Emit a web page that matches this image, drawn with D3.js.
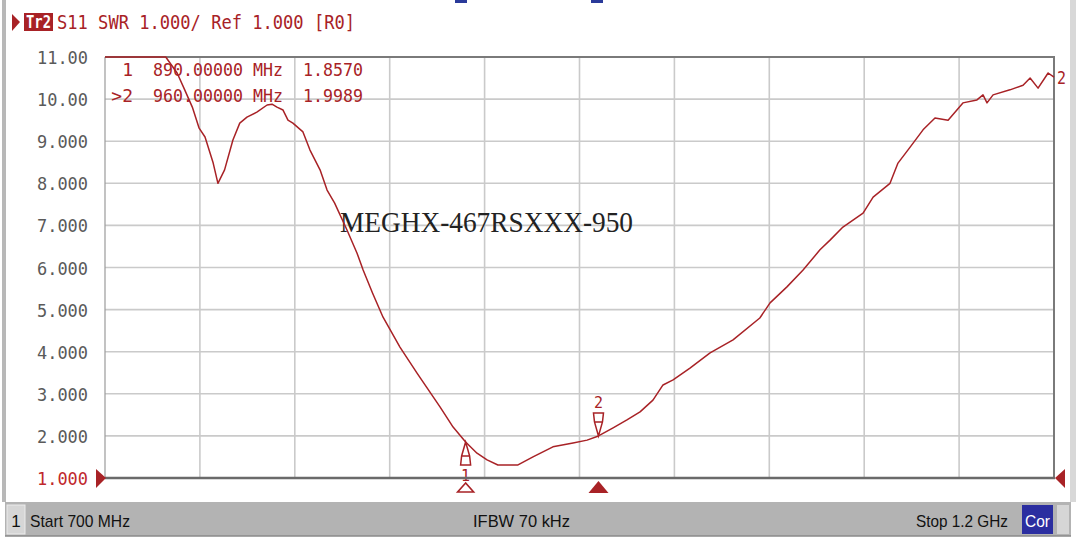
<!DOCTYPE html>
<html>
<head>
<meta charset="utf-8">
<script src="https://cdn.jsdelivr.net/npm/d3@7"></script>
<style>
  html, body { margin: 0; padding: 0; background: #ffffff; }
  svg { display: block; }
</style>
</head>
<body>
<svg id="chart" width="1076" height="540"></svg>
<script>
// ---------- data ----------
const freqMHz = [700, 715, 732, 738, 742, 746, 749.6, 752.7, 757, 759.5, 763, 767.4, 771, 774.8, 780, 785.4, 788, 790.6, 793.8,
  796.4, 799, 804.3, 808, 813.3, 817, 821, 827.5, 832.8, 836, 841, 846.5, 855.4, 864.4, 876.5, 883.4, 890, 896, 901.3, 907,
  917.6, 925.5, 936, 946.6, 954, 960, 967.7, 975, 981.9, 988.7, 994, 999.3, 1008.2, 1018.8, 1030.9, 1045, 1050.4, 1059.3,
  1067.8, 1076.7, 1082, 1088.8, 1099.4, 1104.7, 1113.6, 1117.8, 1124.2, 1131, 1137.3, 1144.2, 1152, 1159.4, 1162.6, 1164.7,
  1167.9, 1176.8, 1183.7, 1187.4, 1191.6, 1196.9, 1200];
const swr = [11.0, 11.0, 11.0, 10.62, 10.22, 9.81, 9.31, 9.10, 8.48, 8.0, 8.32, 9.03, 9.43, 9.57, 9.69, 9.86, 9.88, 9.81, 9.74,
  9.50, 9.43, 9.22, 8.79, 8.32, 7.84, 7.53, 6.89, 6.34, 5.94, 5.39, 4.82, 4.11, 3.49, 2.69, 2.21, 1.857, 1.59, 1.43, 1.31,
  1.31, 1.50, 1.74, 1.83, 1.90, 1.999, 2.19, 2.38, 2.57, 2.85, 3.21, 3.33, 3.61, 3.97, 4.28, 4.80, 5.16, 5.54,
  5.94, 6.42, 6.65, 6.96, 7.29, 7.67, 8.0, 8.48, 8.86, 9.27, 9.55, 9.50, 9.91, 9.98, 10.10, 9.91,
  10.10, 10.22, 10.33, 10.50, 10.26, 10.62, 10.52];
const yTickValues = [11, 10, 9, 8, 7, 6, 5, 4, 3, 2, 1];
const yTickLabels = ["11.00", "10.00", "9.000", "8.000", "7.000", "6.000", "5.000", "4.000", "3.000", "2.000", "1.000"];
const xGridMHz = [700, 750, 800, 850, 900, 950, 1000, 1050, 1100, 1150, 1200];
const markerIds = ["1", "2"];
const markerFreq = [890, 960];
const markerSwr = [1.857, 1.9989];
const markerFreqText = ["890.00000 MHz", "960.00000 MHz"];
const markerValText = ["1.8570", "1.9989"];
const headerText = "S11 SWR 1.000/ Ref 1.000 [R0]";
const annotation = "MEGHX-467RSXXX-950";

// ---------- layout ----------
const svg = d3.select("#chart");
const L = 105, R = 1054, T = 57, B = 478;
const x = d3.scaleLinear().domain([700, 1200]).range([L, R]);
const y = d3.scaleLinear().domain([1, 11]).range([B, T]);
const red = "#a82226";
const mono = "'DejaVu Sans Mono', 'Liberation Mono', monospace";
const sans = "'Liberation Sans', 'DejaVu Sans', sans-serif";

// window frame bits
svg.append("rect").attr("x", 2).attr("y", 0).attr("width", 4).attr("height", 502).attr("fill", "#b8b8b8");
svg.append("rect").attr("x", 1070).attr("y", 0).attr("width", 6).attr("height", 502).attr("fill", "#d8d8d8");
svg.append("rect").attr("x", 455).attr("y", 0).attr("width", 12).attr("height", 3).attr("fill", "#2a3a9a");
svg.append("rect").attr("x", 591).attr("y", 0).attr("width", 12).attr("height", 3).attr("fill", "#2a3a9a");

// header
svg.append("path").attr("d", "M12,14 L20,22 L12,31 Z").attr("fill", red);
svg.append("rect").attr("x", 24).attr("y", 13).attr("width", 29).attr("height", 18).attr("fill", red);
svg.append("text").attr("x", 26).attr("y", 28).attr("font-family", mono).attr("font-size", 17).attr("font-weight", "bold")
  .attr("fill", "#fff").attr("textLength", 25).attr("lengthAdjust", "spacingAndGlyphs").text("Tr2");
svg.append("text").attr("x", 57).attr("y", 29).attr("font-family", mono).attr("font-size", 20)
  .attr("fill", red).attr("textLength", 298).attr("lengthAdjust", "spacingAndGlyphs").text(headerText);

// grid
const g = svg.append("g");
g.selectAll("line.vg").data(xGridMHz.slice(1, -1)).join("line")
  .attr("x1", d => x(d)).attr("x2", d => x(d)).attr("y1", T).attr("y2", B)
  .attr("stroke", "#cacaca").attr("stroke-width", 1.6);
g.selectAll("line.hg").data(yTickValues.slice(1, -1)).join("line")
  .attr("x1", L).attr("x2", R).attr("y1", d => y(d)).attr("y2", d => y(d))
  .attr("stroke", "#cacaca").attr("stroke-width", 1.6);

// y labels
svg.selectAll("text.yl").data(yTickValues).join("text")
  .attr("x", 88).attr("y", d => y(d) + 7)
  .attr("text-anchor", "end").attr("font-family", mono).attr("font-size", 18)
  .attr("fill", (d, i) => d === 1 ? "#c0282c" : "#5a5a5a")
  .attr("textLength", 51).attr("lengthAdjust", "spacingAndGlyphs")
  .text((d, i) => yTickLabels[i]);

// frame
svg.append("line").attr("x1", L).attr("x2", L).attr("y1", T).attr("y2", B).attr("stroke", "#9a9a9a").attr("stroke-width", 1.2);
svg.append("line").attr("x1", L).attr("x2", R + 1).attr("y1", T).attr("y2", T).attr("stroke", "#7a7a7a").attr("stroke-width", 2);
svg.append("line").attr("x1", R).attr("x2", R).attr("y1", T).attr("y2", B).attr("stroke", "#7a7a7a").attr("stroke-width", 2);

// annotation
svg.append("text").attr("x", 340).attr("y", 232).attr("font-family", "'Liberation Serif', 'DejaVu Serif', serif")
  .attr("font-size", 29).attr("fill", "#222").attr("textLength", 293).attr("lengthAdjust", "spacingAndGlyphs").text(annotation);

// marker readout
const rows = svg.selectAll("g.row").data(markerIds).join("g").attr("font-family", mono).attr("font-size", 18).attr("fill", red);
rows.append("text").attr("x", 133).attr("y", (d, i) => 76 + i * 26).attr("text-anchor", "end")
  .text((d, i) => (i === 1 ? ">" : "") + d);
rows.append("text").attr("x", 153).attr("y", (d, i) => 76 + i * 26)
  .attr("textLength", 130).attr("lengthAdjust", "spacingAndGlyphs").text((d, i) => markerFreqText[i]);
rows.append("text").attr("x", 303).attr("y", (d, i) => 76 + i * 26)
  .attr("textLength", 60).attr("lengthAdjust", "spacingAndGlyphs").text((d, i) => markerValText[i]);

// trace
const pts = freqMHz.map((f, i) => [f, swr[i]]);
svg.append("path").datum(pts)
  .attr("d", d3.line().x(d => x(d[0])).y(d => y(d[1])))
  .attr("fill", "none").attr("stroke", red).attr("stroke-width", 1.5).attr("stroke-linejoin", "round");
svg.append("text").attr("x", 1057).attr("y", 84).attr("font-family", mono).attr("font-size", 18).attr("fill", red)
  .attr("textLength", 9).attr("lengthAdjust", "spacingAndGlyphs").text("2");

// markers on trace
const mk = svg.selectAll("g.mk").data(markerIds).join("g");
mk.append("path").attr("d", (d, i) => {
  const px = x(markerFreq[i]), py = y(markerSwr[i]);
  if (i === 0) return `M${px},${py} L${px - 4},${py + 14} L${px - 5},${py + 23} L${px + 5},${py + 23} L${px + 4},${py + 14} Z M${px - 4},${py + 14} L${px + 4},${py + 14}`;
  return `M${px},${py} L${px - 4},${py - 14} L${px - 5},${py - 23} L${px + 5},${py - 23} L${px + 4},${py - 14} Z M${px - 4},${py - 14} L${px + 4},${py - 14}`;
}).attr("fill", "#fff").attr("stroke", red).attr("stroke-width", 1.5);
mk.append("text").attr("x", (d, i) => x(markerFreq[i]))
  .attr("y", (d, i) => i === 0 ? y(markerSwr[i]) + 39 : y(markerSwr[i]) - 28)
  .attr("text-anchor", "middle").attr("font-family", mono).attr("font-size", 15).attr("fill", red).text(d => d);

// bottom axis line
svg.append("line").attr("x1", L).attr("x2", R + 1).attr("y1", B).attr("y2", B).attr("stroke", "#6a6a6a").attr("stroke-width", 2.6);

// bottom marker triangles
svg.append("path").attr("d", `M${x(markerFreq[0])},483 L${x(markerFreq[0]) - 8},492 L${x(markerFreq[0]) + 8},492 Z`)
  .attr("fill", "#fff").attr("stroke", red).attr("stroke-width", 1.6);
svg.append("path").attr("d", `M${x(markerFreq[1])},481 L${x(markerFreq[1]) - 10},493 L${x(markerFreq[1]) + 10},493 Z`)
  .attr("fill", red);

// reference triangles
svg.append("path").attr("d", `M96,${B - 9} L106,${B} L96,${B + 10} Z`).attr("fill", red);
svg.append("path").attr("d", `M1065,${B - 9} L1055,${B} L1065,${B + 10} Z`).attr("fill", red);

// status bar
svg.append("rect").attr("x", 5).attr("y", 502).attr("width", 1066).attr("height", 34).attr("fill", "#b3b3b3");
svg.append("line").attr("x1", 5).attr("x2", 1071).attr("y1", 536).attr("y2", 536).attr("stroke", "#8a8a8a").attr("stroke-width", 1.5);
svg.append("rect").attr("x", 7).attr("y", 505).attr("width", 18).attr("height", 29).attr("fill", "#d6d6d6").attr("stroke", "#ececec");
svg.append("text").attr("x", 16).attr("y", 527).attr("text-anchor", "middle").attr("font-family", sans).attr("font-size", 17)
  .attr("fill", "#111").text("1");
svg.append("text").attr("x", 30).attr("y", 527).attr("font-family", sans).attr("font-size", 17).attr("fill", "#111")
  .attr("textLength", 100).attr("lengthAdjust", "spacingAndGlyphs").text("Start 700 MHz");
svg.append("text").attr("x", 473).attr("y", 527).attr("font-family", sans).attr("font-size", 17).attr("fill", "#111")
  .attr("textLength", 97).attr("lengthAdjust", "spacingAndGlyphs").text("IFBW 70 kHz");
svg.append("text").attr("x", 916).attr("y", 527).attr("font-family", sans).attr("font-size", 17).attr("fill", "#111")
  .attr("textLength", 92).attr("lengthAdjust", "spacingAndGlyphs").text("Stop 1.2 GHz");
svg.append("rect").attr("x", 1022).attr("y", 505).attr("width", 31).attr("height", 29).attr("fill", "#2b2ea0");
svg.append("text").attr("x", 1025).attr("y", 527).attr("font-family", sans).attr("font-size", 17).attr("fill", "#fff")
  .attr("textLength", 25).attr("lengthAdjust", "spacingAndGlyphs").text("Cor");
svg.append("rect").attr("x", 1057).attr("y", 505).attr("width", 12).attr("height", 29).attr("fill", "#d6d6d6");
</script>
</body>
</html>
